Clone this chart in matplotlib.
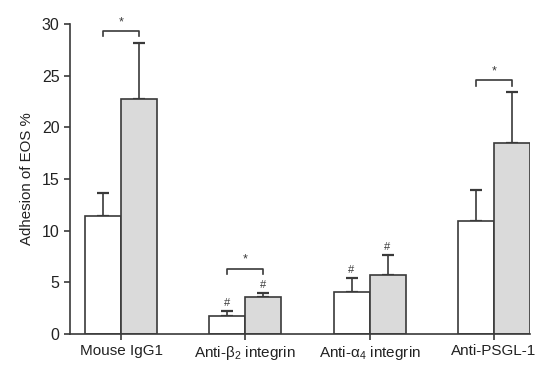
import matplotlib
matplotlib.use("Agg")
import matplotlib.pyplot as plt
import numpy as np

plt.rcParams['font.family'] = ['Liberation Sans', 'DejaVu Sans']
plt.rcParams['mathtext.fontset'] = 'custom'
plt.rcParams['mathtext.rm'] = 'Liberation Sans'
plt.rcParams['mathtext.it'] = 'Liberation Sans'
plt.rcParams['mathtext.default'] = 'regular'

categories = ["Mouse IgG1", "Anti-β$_2$ integrin", "Anti-α$_4$ integrin", "Anti-PSGL-1"]
white_vals = [11.4, 1.7, 4.1, 10.9]
white_err = [2.2, 0.5, 1.35, 3.0]
gray_vals = [22.7, 3.55, 5.7, 18.5]
gray_err = [5.5, 0.45, 1.9, 4.95]
star_groups = [0, 1, 3]
hash_white = [1, 2]
hash_gray = [1, 2]
yticks = [0, 5, 10, 15, 20, 25, 30]

ink = '#3a3a3a'
fig = plt.figure(figsize=(5.39, 3.65), dpi=100)
ax = fig.add_axes([0.130, 0.085, 0.853, 0.849])

x = np.arange(len(categories))
w = 0.29
ax.bar(x - w/2, white_vals, w, color='white', edgecolor=ink, linewidth=1.2, zorder=2)
ax.bar(x + w/2, gray_vals, w, color='#dadada', edgecolor=ink, linewidth=1.2, zorder=2)
ax.errorbar(x - w/2, white_vals, yerr=[np.zeros(4), white_err], fmt='none',
            ecolor=ink, elinewidth=1.2, capsize=4.5, capthick=1.6, zorder=1)
ax.errorbar(x + w/2, gray_vals, yerr=[np.zeros(4), gray_err], fmt='none',
            ecolor=ink, elinewidth=1.2, capsize=4.5, capthick=1.6, zorder=1)

for g in star_groups:
    top = max(white_vals[g] + white_err[g], gray_vals[g] + gray_err[g])
    yb = top + 1.1
    if g == 1:
        yb = top + 2.3
    ax.plot([g - w/2, g - w/2, g + w/2, g + w/2], [yb - 0.5, yb, yb, yb - 0.5],
            color=ink, lw=1.2, clip_on=False)
    ax.text(g, yb + 0.3, '*', ha='center', va='bottom', fontsize=9, color=ink)

for g in hash_white:
    ax.text(g - w/2, white_vals[g] + white_err[g] + 0.3, '#', ha='center', va='bottom',
            fontsize=8, color=ink)
for g in hash_gray:
    ax.text(g + w/2, gray_vals[g] + gray_err[g] + 0.3, '#', ha='center', va='bottom',
            fontsize=8, color=ink)

ax.set_xlim(-0.41, 3.0 + w)
ax.set_ylim(0, 30)
ax.set_yticks(yticks)
ax.set_xticks(x)
ax.set_xticklabels(categories, fontsize=11, color='#222222')
ax.tick_params(axis='y', labelsize=11.5, colors=ink, labelcolor='#222222', length=4, width=1.2)
ax.tick_params(axis='x', length=4, width=1.2, colors=ink, labelcolor='#222222', pad=3)
for s in ['top', 'right']:
    ax.spines[s].set_visible(False)
for s in ['left', 'bottom']:
    ax.spines[s].set_color(ink)
    ax.spines[s].set_linewidth(1.2)
ax.set_ylabel('Adhesion of EOS %', fontsize=10.8, color='#222222', labelpad=6)

fig.savefig('out.png', dpi=100)
